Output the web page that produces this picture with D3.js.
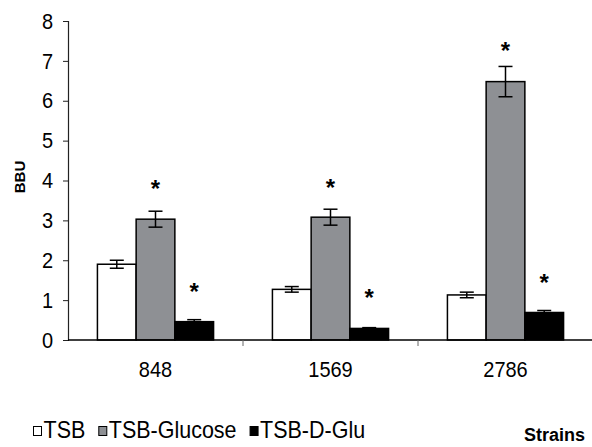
<!DOCTYPE html>
<html>
<head>
<meta charset="utf-8">
<script src="https://cdn.jsdelivr.net/npm/d3@7"></script>
<style>
  body { margin: 0; background: #fff; }
  text { font-family: "Liberation Sans", Arial, sans-serif; }
</style>
</head>
<body>
<script>
// data
const strains = ['848', '1569', '2786']
const media = ['TSB', 'TSB-Glucose', 'TSB-D-Glu']
const tsb = [1.90, 1.27, 1.13]
const tsbErr = [0.10, 0.07, 0.07]
const glucose = [3.03, 3.08, 6.48]
const glucoseErr = [0.20, 0.20, 0.38]
const dglu = [0.46, 0.29, 0.69]
const dgluErr = [0.05, 0.02, 0.05]
// asterisks (significance), level in BBU where each sits
const glucoseStar = [3.91, 3.94, 7.38]
const dgluStar = [1.33, 1.17, 1.56]
const yTicks = [0, 1, 2, 3, 4, 5, 6, 7, 8]

var width = 592,
    height = 447
var margin = {left: 68, top: 21, right: 0, bottom: 107}
var stretch = 1.12 // text in the figure is a bit taller than wide

var svg = d3.select('body').append('svg')
    .attr('width', width)
    .attr('height', height)

var x = d3.scaleBand()
    .domain(strains)
    .range([margin.left, 593])
var xInner = d3.scaleBand()
    .domain(media)
    .range([0, x.bandwidth()])
    .paddingOuter(0.76)
    .paddingInner(0)
var y = d3.scaleLinear()
    .domain([0, 8])
    .range([340, margin.top])

var colors = {'TSB': '#ffffff', 'TSB-Glucose': '#8e9094', 'TSB-D-Glu': '#000000'}

var rows = strains.map((s, i) => ({
    strain: s,
    bars: [
        {key: 'TSB', v: tsb[i], e: tsbErr[i], star: null},
        {key: 'TSB-Glucose', v: glucose[i], e: glucoseErr[i], star: glucoseStar[i]},
        {key: 'TSB-D-Glu', v: dglu[i], e: dgluErr[i], star: dgluStar[i]}
    ]
}))

// y axis
var yAxis = svg.append('g')
    .attr('transform', `translate(${margin.left},0)`)
    .call(d3.axisLeft(y).tickValues(yTicks).tickSize(5).tickPadding(10).tickFormat(d3.format('d')))
yAxis.select('.domain').attr('stroke', '#222').attr('stroke-width', 1.2)
yAxis.selectAll('.tick line').attr('stroke', '#222')
yAxis.selectAll('text').attr('font-size', 20).attr('fill', '#000')
    .style('font-family', '"Liberation Sans", Arial, sans-serif')
    .attr('transform', `scale(1,${stretch})`)
    .attr('y', 0)
    .attr('dy', '0.32em')

svg.append('text')
    .attr('transform', 'translate(25,177) rotate(-90)')
    .attr('text-anchor', 'middle')
    .attr('font-size', 15)
    .attr('font-weight', 'bold')
    .text('BBU')

// bars
var groups = svg.selectAll('.grp')
    .data(rows).enter()
    .append('g')
    .attr('class', 'grp')
    .attr('transform', d => `translate(${x(d.strain)},0)`)

groups.selectAll('rect')
    .data(d => d.bars).enter()
    .append('rect')
    .attr('x', d => xInner(d.key))
    .attr('y', d => y(d.v))
    .attr('width', xInner.bandwidth())
    .attr('height', d => y(0) - y(d.v))
    .attr('fill', d => colors[d.key])
    .attr('stroke', '#000')
    .attr('stroke-width', 1.5)

// error bars
var eb = groups.selectAll('.err')
    .data(d => d.bars).enter()
    .append('g')
    .attr('class', 'err')
    .attr('stroke', '#000')
    .attr('stroke-width', 1.5)
var cx = d => xInner(d.key) + xInner.bandwidth() / 2
eb.append('line')
    .attr('x1', cx).attr('x2', cx)
    .attr('y1', d => y(d.v - d.e)).attr('y2', d => y(d.v + d.e))
eb.append('line')
    .attr('x1', d => cx(d) - 7).attr('x2', d => cx(d) + 7)
    .attr('y1', d => y(d.v + d.e)).attr('y2', d => y(d.v + d.e))
eb.append('line')
    .attr('x1', d => cx(d) - 7).attr('x2', d => cx(d) + 7)
    .attr('y1', d => y(d.v - d.e)).attr('y2', d => y(d.v - d.e))

// stars
groups.selectAll('.star')
    .data(d => d.bars.filter(b => b.star !== null)).enter()
    .append('text')
    .attr('class', 'star')
    .attr('x', cx)
    .attr('y', d => y(d.star) + 13)
    .attr('text-anchor', 'middle')
    .attr('font-size', 24)
    .attr('font-weight', 'bold')
    .text('*')

// x axis
var xAxis = svg.append('g')
    .attr('transform', `translate(0,${y(0)})`)
xAxis.append('line')
    .attr('x1', margin.left).attr('x2', width)
    .attr('stroke', '#000').attr('stroke-width', 1.5)
xAxis.selectAll('.sep')
    .data(strains.slice(1)).enter()
    .append('line')
    .attr('x1', d => x(d)).attr('x2', d => x(d))
    .attr('y1', 0).attr('y2', 6)
    .attr('stroke', '#666')
xAxis.selectAll('.lbl')
    .data(strains).enter()
    .append('text')
    .attr('transform', d => `translate(${x(d) + x.bandwidth() / 2},37) scale(1,${stretch})`)
    .attr('text-anchor', 'middle')
    .attr('font-size', 20)
    .text(d => d)

svg.append('text')
    .attr('x', 524)
    .attr('y', 441)
    .attr('font-size', 18)
    .attr('font-weight', 'bold')
    .text('Strains')

// legend
var legend = svg.append('g')
    .attr('transform', 'translate(33,438)')
var lx = 0
media.forEach(m => {
    var g = legend.append('g').attr('transform', `translate(${lx},0)`)
    g.append('rect')
        .attr('x', 0.5).attr('y', -11.5)
        .attr('width', 8).attr('height', 9)
        .attr('fill', colors[m])
        .attr('stroke', '#000')
        .attr('stroke-width', 1)
    var t = g.append('text')
        .attr('transform', `translate(10.5,0) scale(1,${stretch})`)
        .attr('font-size', 21.5)
        .text(m)
    lx += 10.5 + t.node().getComputedTextLength() + 13
})
</script>
</body>
</html>
